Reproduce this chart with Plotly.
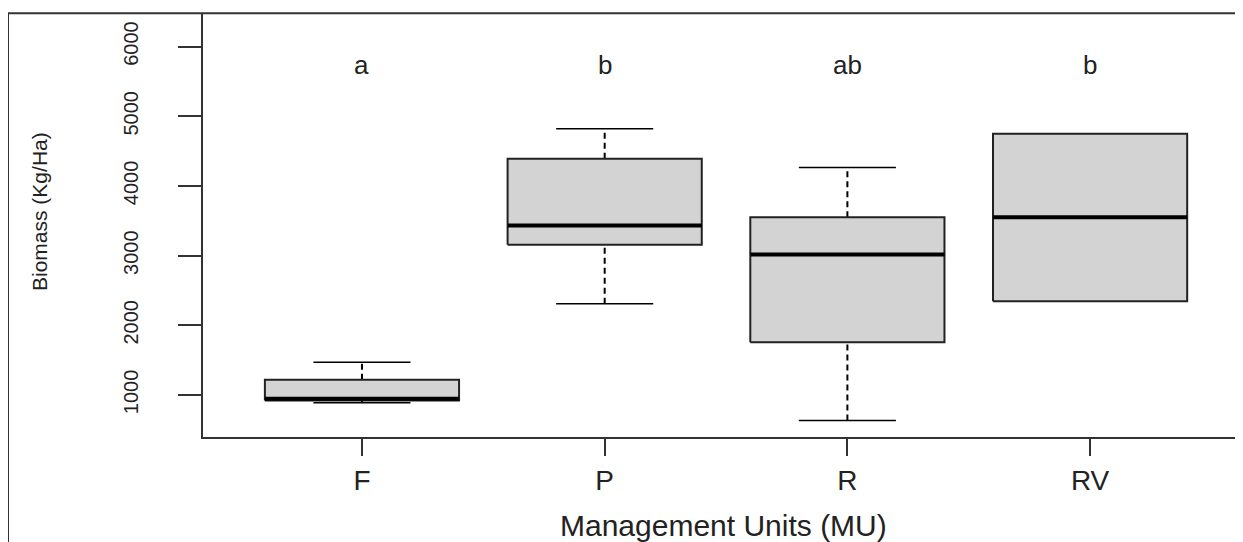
import plotly.graph_objects as go

# ---- data ----
categories = ["F", "P", "R", "RV"]
lower_whisker = [890, 2310, 635, 2345]
q1 = [920, 3155, 1756, 2345]
median = [945, 3432, 3016, 3552]
q3 = [1220, 4391, 3552, 4749]
upper_whisker = [1470, 4822, 4265, 4749]
letters = ["a", "b", "ab", "b"]
letter_y = 5740
y_ticks = [1000, 2000, 3000, 4000, 5000, 6000]

FONT = "Liberation Sans, Arial, sans-serif"
BOX_HALF = 0.40
CAP_HALF = 0.20

fig = go.Figure()

for i, cat in enumerate(categories):
    # whiskers (dashed)
    if upper_whisker[i] > q3[i]:
        fig.add_trace(go.Scatter(x=[i, i], y=[q3[i], upper_whisker[i]], mode="lines",
                                 line=dict(color="black", width=2, dash="6px,4px"),
                                 showlegend=False, hoverinfo="skip"))
        fig.add_trace(go.Scatter(x=[i - CAP_HALF, i + CAP_HALF], y=[upper_whisker[i]] * 2, mode="lines",
                                 line=dict(color="black", width=1.5),
                                 showlegend=False, hoverinfo="skip"))
    if lower_whisker[i] < q1[i]:
        fig.add_trace(go.Scatter(x=[i, i], y=[lower_whisker[i], q1[i]], mode="lines",
                                 line=dict(color="black", width=2, dash="6px,4px"),
                                 showlegend=False, hoverinfo="skip"))
        fig.add_trace(go.Scatter(x=[i - CAP_HALF, i + CAP_HALF], y=[lower_whisker[i]] * 2, mode="lines",
                                 line=dict(color="black", width=1.5),
                                 showlegend=False, hoverinfo="skip"))
    # box body
    fig.add_trace(go.Scatter(
        x=[i - BOX_HALF, i + BOX_HALF, i + BOX_HALF, i - BOX_HALF, i - BOX_HALF],
        y=[q1[i], q1[i], q3[i], q3[i], q1[i]],
        mode="lines", fill="toself", fillcolor="#d3d3d3",
        line=dict(color="#222222", width=2), showlegend=False, hoverinfo="skip"))
    # median
    fig.add_trace(go.Scatter(x=[i - BOX_HALF, i + BOX_HALF], y=[median[i]] * 2, mode="lines",
                             line=dict(color="black", width=4),
                             showlegend=False, hoverinfo="skip"))
    # group letter
    fig.add_annotation(x=i, y=letter_y, xref="x", yref="y", text=letters[i], showarrow=False,
                       yanchor="middle", font=dict(family=FONT, size=26, color="#222222"))

# outer frame
fig.add_shape(type="rect", xref="paper", yref="paper", x0=-0.1875, x1=1.05, y0=-0.4, y1=1.002,
              line=dict(color="#333333", width=2), fillcolor="rgba(0,0,0,0)", layer="above")

# axis titles
fig.add_annotation(x=-0.1567, y=0.532, xref="paper", yref="paper", text="Biomass (Kg/Ha)",
                   textangle=-90, showarrow=False, xanchor="center", yanchor="middle",
                   font=dict(family=FONT, size=21, color="#222222"))
fig.add_annotation(x=0.5, y=-0.21, xref="paper", yref="paper", text="Management Units (MU)",
                   showarrow=False, xanchor="center", yanchor="middle",
                   font=dict(family=FONT, size=30, color="#222222"))

fig.update_layout(
    width=1235, height=534,
    margin=dict(l=195, r=0, t=6, b=105),
    paper_bgcolor="white", plot_bgcolor="white",
    showlegend=False,
    xaxis=dict(range=[-0.655, 3.63], tickvals=list(range(len(categories))), ticktext=categories,
               showline=True, linecolor="#333333", linewidth=2, ticks="outside", ticklen=17,
               tickwidth=1.5, tickcolor="#333333", showgrid=False, zeroline=False,
               tickfont=dict(family=FONT, size=28, color="#222222"), ticklabelstandoff=0),
    yaxis=dict(range=[397, 6468], tickvals=y_ticks, ticktext=[str(v) for v in y_ticks],
               tickangle=-90, showline=True, linecolor="#333333", linewidth=2, ticks="outside",
               ticklen=23, tickwidth=1.5, tickcolor="#333333", showgrid=False, zeroline=False,
               tickfont=dict(family=FONT, size=20, color="#222222"), ticklabelstandoff=32),
)

fig.write_html("out.html")
